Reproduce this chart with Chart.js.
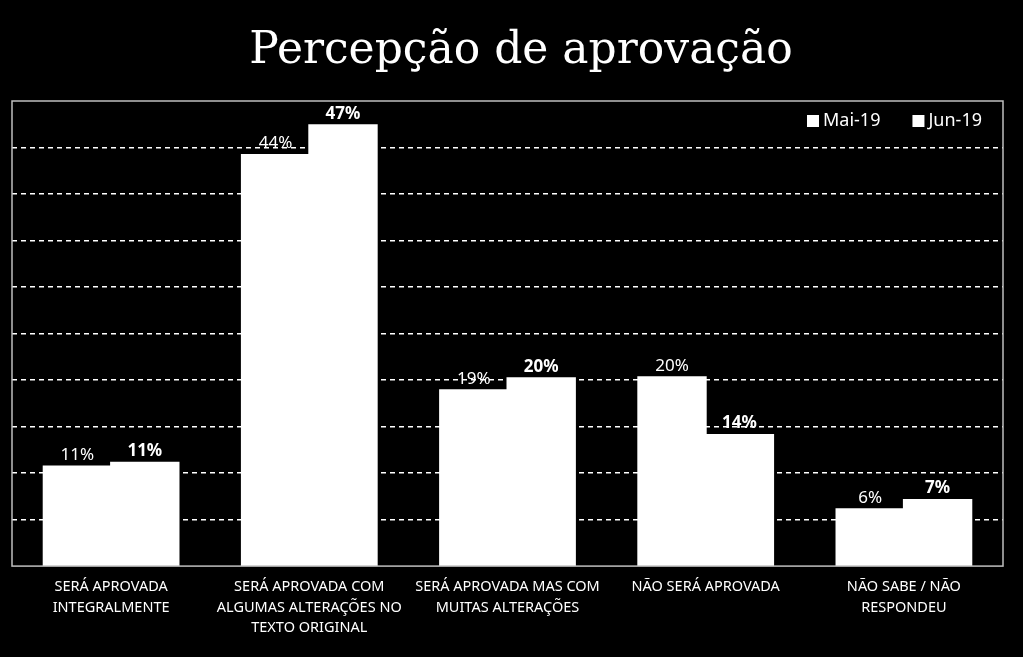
<!DOCTYPE html>
<html>
<head>
<meta charset="utf-8">
<script src="https://cdn.jsdelivr.net/npm/chart.js@4.4.1/dist/chart.umd.min.js"></script>
<style>
  html, body { margin: 0; padding: 0; background: #000; }
  #wrap { width: 1023px; height: 657px; }
</style>
</head>
<body>
<div id="wrap"><canvas id="barChart"></canvas></div>
<script>
const categories = [
  ['SERÁ APROVADA', 'INTEGRALMENTE'],
  ['SERÁ APROVADA COM', 'ALGUMAS ALTERAÇÕES NO', 'TEXTO ORIGINAL'],
  ['SERÁ APROVADA MAS COM', 'MUITAS ALTERAÇÕES'],
  ['NÃO SERÁ APROVADA'],
  ['NÃO SABE / NÃO', 'RESPONDEU']
];
const seriesNames = ['Mai-19', 'Jun-19'];
const maiValues = [10.7, 44.2, 18.9, 20.3, 6.1];
const junValues = [11.1, 47.4, 20.2, 14.1, 7.1];
const titleText = 'Percepção de aprovação';

const labelFont = 'Noto Sans';

// título desenhado à mão (centrado um pouco à direita, como no original)
const bigTitle = {
  id: 'bigTitle',
  afterDraw(chart) {
    const { ctx } = chart;
    ctx.save();
    ctx.fillStyle = '#fff';
    ctx.font = '44px "DejaVu Serif"';
    ctx.textAlign = 'center';
    ctx.textBaseline = 'alphabetic';
    ctx.fillText(titleText, 521, 63);
    ctx.restore();
  }
};

// rótulos de dados em cima das barras (Mai normal, Jun negrito)
const dataLabels = {
  id: 'dataLabels',
  afterDatasetsDraw(chart) {
    const { ctx } = chart;
    ctx.save();
    ctx.fillStyle = '#fff';
    ctx.textAlign = 'center';
    ctx.textBaseline = 'bottom';
    chart.data.datasets.forEach((ds, i) => {
      const meta = chart.getDatasetMeta(i);
      ctx.font = (i === 1 ? 'bold ' : '') + '17px "' + labelFont + '"';
      meta.data.forEach((bar, j) => {
        ctx.fillText(Math.round(ds.data[j]) + '%', bar.x, bar.y - 3);
      });
    });
    ctx.restore();
  }
};

// legenda dentro da área, canto superior direito
const cornerLegend = {
  id: 'cornerLegend',
  afterDraw(chart) {
    const { ctx, chartArea: a } = chart;
    ctx.save();
    ctx.font = '18px "' + labelFont + '"';
    ctx.fillStyle = '#fff';
    ctx.textBaseline = 'middle';
    const y = a.top + 20;
    let x = a.right - 21;
    const items = chart.data.datasets.map(d => d.label).reverse();
    items.forEach((name) => {
      const w = ctx.measureText(name).width;
      x -= w;
      ctx.fillText(name, x, y);
      ctx.fillRect(x - 16, y - 6, 12, 12);
      x -= 48;
    });
    ctx.restore();
  }
};

// moldura da área do gráfico
const frame = {
  id: 'frame',
  afterDraw(chart) {
    const { ctx, chartArea: a } = chart;
    ctx.save();
    ctx.strokeStyle = '#bfbfbf';
    ctx.lineWidth = 1.5;
    ctx.strokeRect(a.left, a.top, a.right - a.left, a.bottom - a.top);
    ctx.restore();
  }
};

new Chart(document.getElementById('barChart').getContext('2d'), {
  type: 'bar',
  data: {
    labels: categories,
    datasets: [
      { label: seriesNames[0], data: maiValues, backgroundColor: '#fff', borderWidth: 0, inflateAmount: 1 },
      { label: seriesNames[1], data: junValues, backgroundColor: '#fff', borderWidth: 0, inflateAmount: 1 }
    ]
  },
  options: {
    responsive: true,
    maintainAspectRatio: false,
    animation: false,
    datasets: { bar: { categoryPercentage: 0.68, barPercentage: 1.0 } },
    layout: { padding: { left: 12, right: 20, top: 101, bottom: 16 } },
    plugins: {
      title: { display: false },
      legend: { display: false },
      tooltip: { enabled: false }
    },
    scales: {
      x: {
        grid: { display: false },
        border: { display: false },
        ticks: {
          color: '#fff',
          maxRotation: 0,
          autoSkip: false,
          padding: 3,
          font: { family: labelFont, size: 14.5, lineHeight: 1.4 }
        }
      },
      y: {
        min: 0,
        max: 50,
        ticks: { display: false, stepSize: 5 },
        border: { display: false, dash: [5, 4] },
        grid: {
          color: (c) => (c.tick.value === 0 || c.tick.value === 50) ? 'rgba(0,0,0,0)' : '#fff',
          lineWidth: 1.5,
          drawTicks: false
        }
      }
    }
  },
  plugins: [bigTitle, dataLabels, cornerLegend, frame]
});
</script>
</body>
</html>
